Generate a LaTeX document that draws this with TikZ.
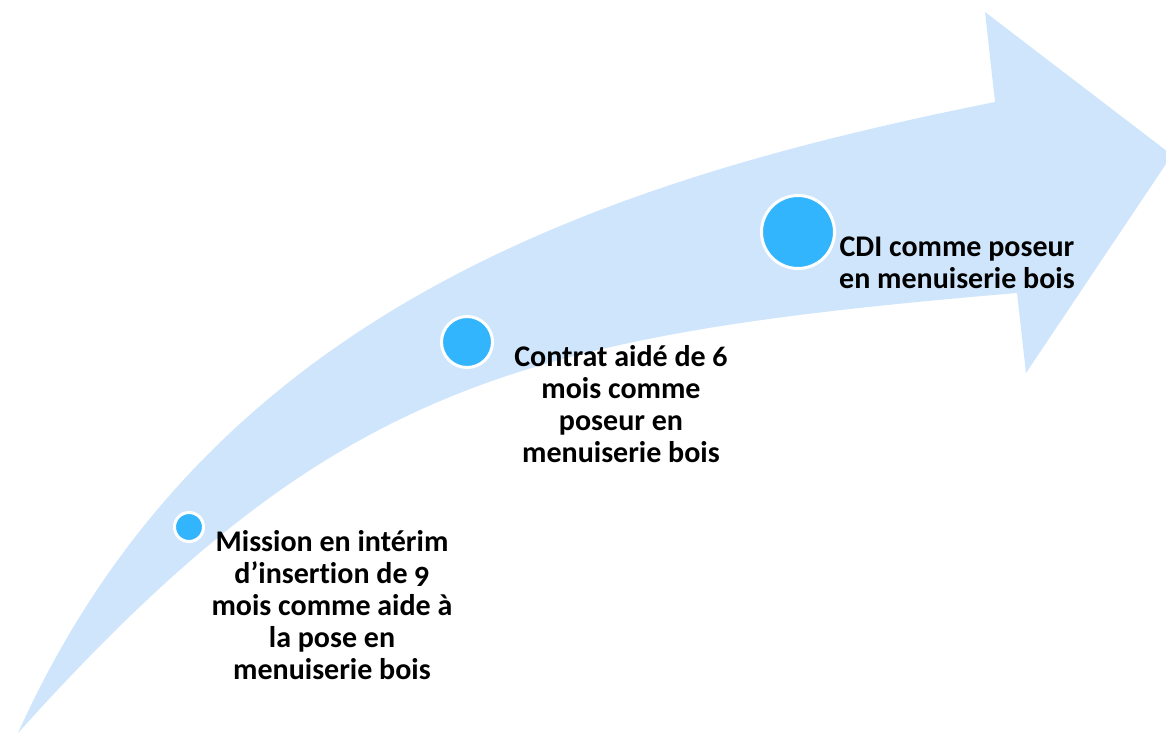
\documentclass[tikz,border=0pt]{standalone}
\usepackage{fontspec}
\setmainfont{Carlito}[Numbers=OldStyle,Ligatures=NoCommon]
\definecolor{arrowblue}{HTML}{CFE5FC}
\definecolor{dotblue}{HTML}{33B5FE}
\begin{document}
\begin{tikzpicture}[x=1pt,y=-1pt,
  dot/.style={circle,fill=dotblue,draw=white,line width=3pt,inner sep=0pt,minimum size=#1},
  steplabel/.style={font=\bfseries\fontsize{30}{32}\selectfont,align=center,inner sep=0pt,text=black}]
\useasboundingbox (0,0) rectangle (1166,733);
\begin{scope}
  \clip (0,0) rectangle (1166,733);
  \fill[arrowblue] (18,733) .. controls (207,313) and (595,182) .. (995,102)
    -- (985,12) -- (1172,155) -- (1026,373) -- (1017,293)
    .. controls (517,335.5) and (333,383) .. (18,733) -- cycle;
\end{scope}
\node[dot=29pt] (d1) at (189,527) {};
\node[dot=51pt] (d2) at (467,342) {};
\node[dot=73pt] (d3) at (798,232) {};
\node[steplabel] (t1) at (332,605) {Mission en intérim\\d’insertion de 9\\mois comme aide à\\la pose en\\menuiserie bois};
\node[steplabel] (t2) at (621,404) {Contrat aidé de 6\\mois comme\\poseur en\\menuiserie bois};
\node[steplabel] (t3) at (957,263) {CDI comme poseur\\en menuiserie bois};
\end{tikzpicture}
\end{document}
